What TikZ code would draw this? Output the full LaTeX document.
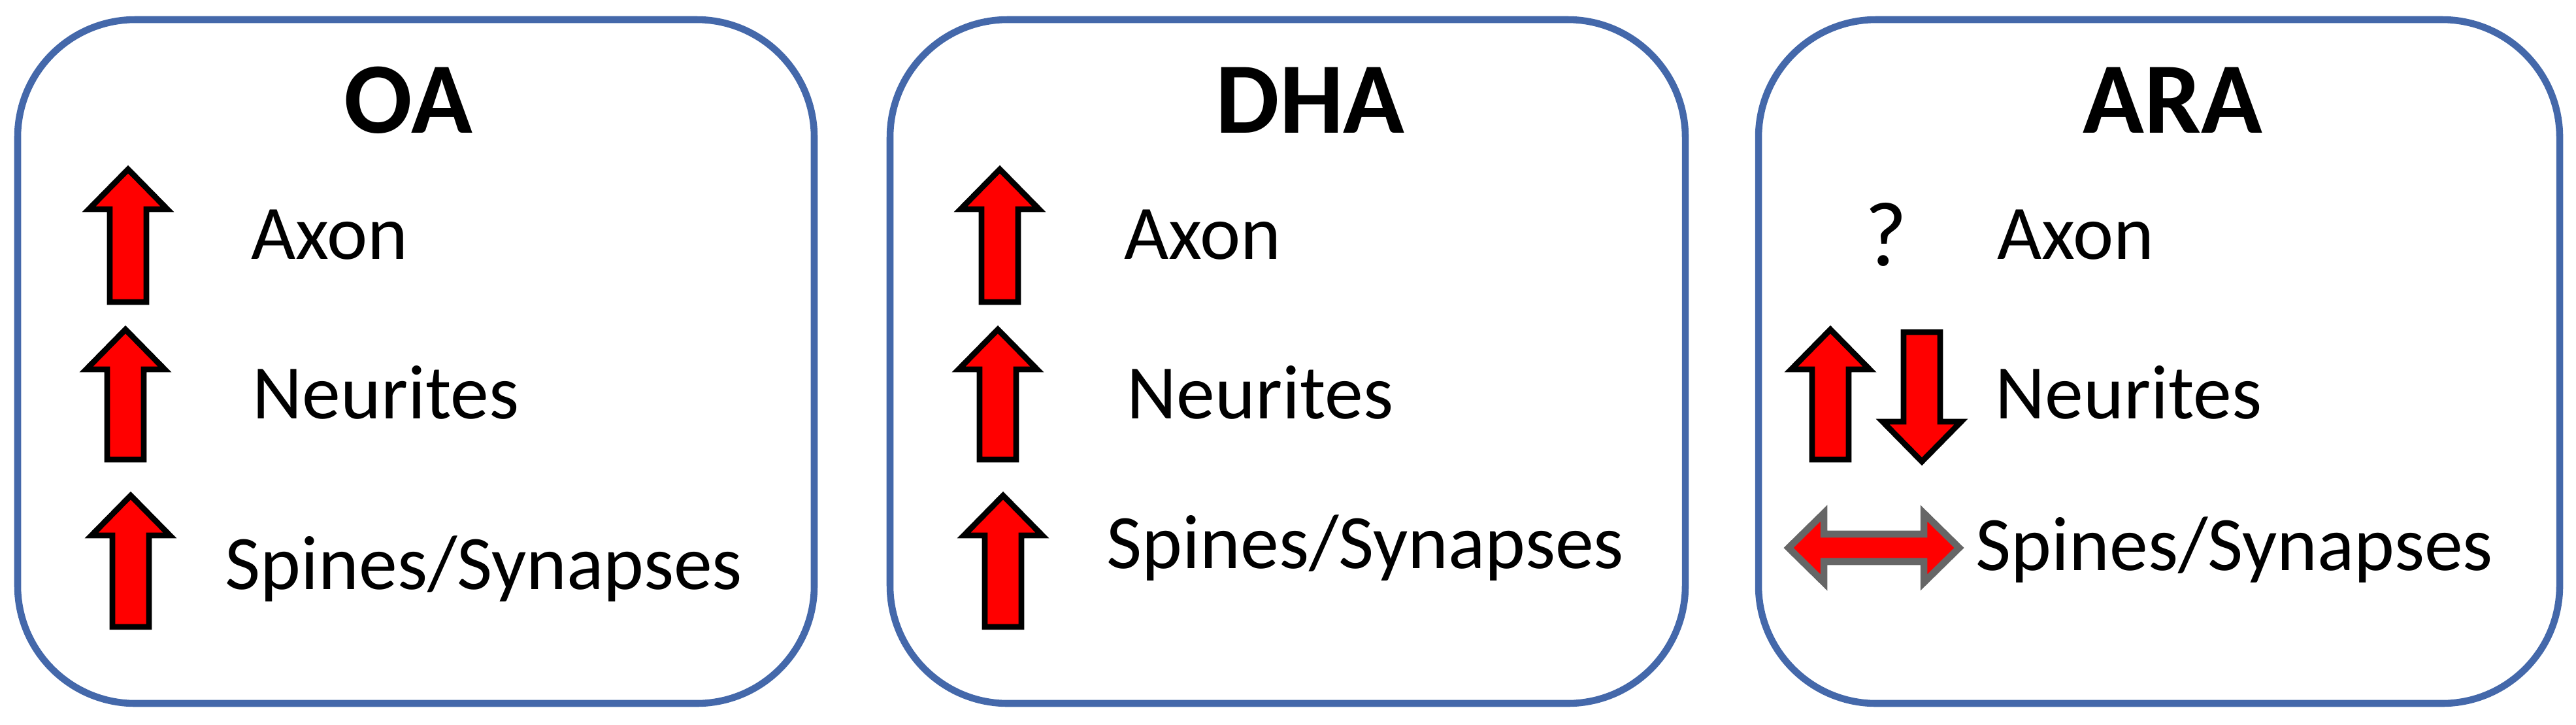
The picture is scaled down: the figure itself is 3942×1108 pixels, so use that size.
\documentclass[tikz,border=0pt]{standalone}
\usepackage{fontspec}
\setmainfont{Carlito}
\begin{document}
\begin{tikzpicture}[x=0.01cm,y=-0.01cm,
  box/.style={draw={rgb,255:red,68;green,104;blue,170}, line width=3pt, rounded corners=1.8cm},
  lbl/.style={anchor=west, inner sep=0pt, font=\fontsize{33.5}{40}\selectfont},
  ttl/.style={inner sep=0pt, font=\bfseries\fontsize{44}{50}\selectfont},
  arr/.style={draw=black, line width=2.5pt, fill=red, line join=miter}]
\useasboundingbox (0,0) rectangle (3942,1108);
\newcommand\UpArr[3]{\draw[arr] ({#1-60},{#2+61}) -- (#1,#2) -- ({#1+60},{#2+61}) -- ({#1+28},{#2+61}) -- ({#1+28},#3) -- ({#1-28},#3) -- ({#1-28},{#2+61}) -- cycle;}
\newcommand\DnArr[3]{\draw[arr] ({#1-60},{#3-61}) -- (#1,#3) -- ({#1+60},{#3-61}) -- ({#1+28},{#3-61}) -- ({#1+28},#2) -- ({#1-28},#2) -- ({#1-28},{#3-61}) -- cycle;}
% boxes
\draw[box] (27,30) rectangle (1246,1076);
\draw[box] (1362,30) rectangle (2579,1076);
\draw[box] (2691,30) rectangle (3917,1076);
% titles
\node[ttl] (t1) at (625,153) {OA};
\node[ttl] (t2) at (2005,153) {DHA};
\node[ttl] (t3) at (3325,153) {ARA};
% box 1
\UpArr{196}{259}{462}
\UpArr{192}{504}{703}
\UpArr{200}{758}{959}
\node[lbl] (a1) at (384,359) {Axon};
\node[lbl] (n1) at (386,600) {Neurites};
\node[lbl] (s1) at (344,870) {Spines/Synapses};
% box 2
\UpArr{1530}{259}{462}
\UpArr{1527}{504}{703}
\UpArr{1535}{758}{959}
\node[lbl] (a2) at (1720,359) {Axon};
\node[lbl] (n2) at (1724,600) {Neurites};
\node[lbl] (s2) at (1693,838) {Spines/Synapses};
% box 3
\node[inner sep=0pt, font=\fontsize{40}{46}\selectfont] (q3) at (2886,359) {?};
\UpArr{2801}{504}{703}
\DnArr{2941}{508}{706}
\draw[arr, draw=black!60, line width=3pt] (2737,838) -- (2791,785) -- (2791,817) -- (2944,817) -- (2944,785) -- (2998,838) -- (2944,891) -- (2944,859) -- (2791,859) -- (2791,891) -- cycle;
\node[lbl] (a3) at (3056,359) {Axon};
\node[lbl] (n3) at (3053,600) {Neurites};
\node[lbl] (s3) at (3023,841) {Spines/Synapses};
\end{tikzpicture}
\end{document}
